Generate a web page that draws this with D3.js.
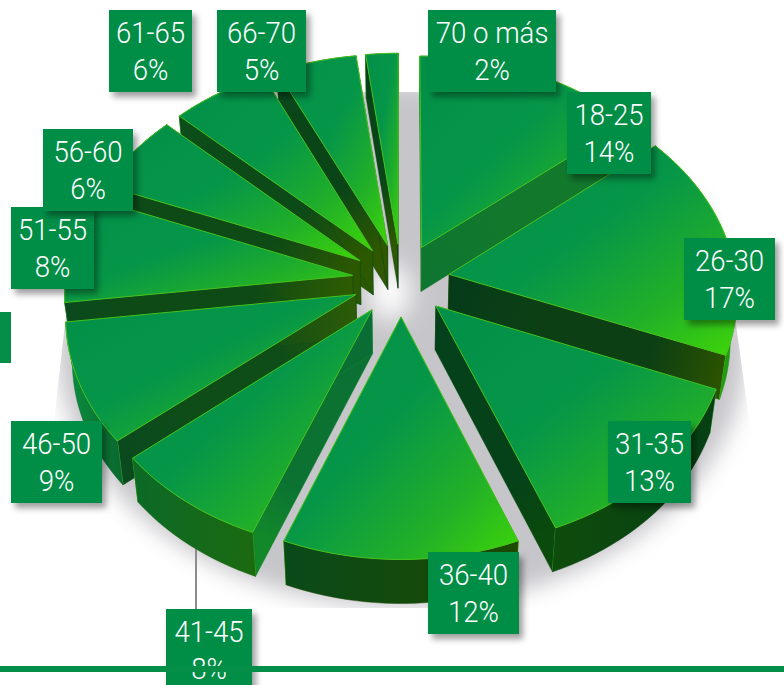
<!DOCTYPE html>
<html lang="es">
<head>
<meta charset="utf-8">
<title>Distribución por edad</title>
<script src="https://cdn.jsdelivr.net/npm/d3@7"></script>
<style>
  html, body { margin: 0; padding: 0; background: #fff; overflow: hidden; }
  svg { display: block; }
  .tag text { font-family: Roboto, sans-serif; font-weight: 300; font-size: 30px; fill: #fff; text-anchor: middle; }
</style>
</head>
<body>
<svg id="chart" width="784" height="685"></svg>
<script>
// Age groups and their share of the total, clockwise from twelve o'clock
const ageGroups = ["18-25", "26-30", "31-35", "36-40", "41-45", "46-50", "51-55", "56-60", "61-65", "66-70", "70 o más"];
const shares = [14, 17, 13, 12, 8, 9, 8, 6, 6, 5, 2];

// Corner of each tag and its width, in the same order as the groups
const tagX = [567, 684, 608, 428, 166, 11, 11, 43, 109, 217, 428];
const tagY = [92, 238, 421, 552, 609, 421, 207, 129, 10, 10, 10];
const tagW = [84, 91, 83, 91, 86, 91, 83, 90, 83, 89, 128];

// Wall shades per slice: radial walls inner, middle and outer, rim wall left to right
const radialInner = ["#0e7630", "#053b1a", "#04401c", "#0a7538", "#0a6c36", "#2e5c06", "#2e5c02", "#2c5800", "#2c5800", "#2f5800", "#2f5800"];
const radialMiddle = ["#11782c", "#0c4014", "#05421a", "#189020", "#0b7232", "#0e4c18", "#0e4a16", "#0e4a16", "#0c4a18", "#0a4518", "#0a4518"];
const radialOuter = ["#1d7a1e", "#2a5200", "#0a4a0c", "#26a810", "#12882a", "#0a4a1e", "#0a4a1c", "#0c4d1a", "#0a481c", "#064018", "#064018"];
const rimLeft = ["#0a8a3a", "#2aa010", "#0e4c0c", "#0a4a1a", "#0b6a28", "#0a9040", "#0a4a1e", "#0a4a1c", "#0c4d1a", "#0a481c", "#064018"];
const rimRight = ["#0a8a3a", "#1f9a10", "#063f14", "#1c4a00", "#1c6a10", "#0a6a30", "#0a4a1e", "#0a4a1c", "#0c4d1a", "#0a481c", "#064018"];

const TAG_GREEN = "#058e47";
const TAG_H = 82;
const svg = d3.select("#chart");
const defs = svg.append("defs");

// Ground-plane projection of the disc with mild perspective
const cx = 401, cy = 280, perspective = 0.089, explode = 0.17, thickness = 44;
const xScale = d3.scaleLinear().domain([-1, 1]).range([cx - 287, cx + 287]);
const yScale = d3.scaleLinear().domain([-1, 1]).range([cy - 214, cy + 214]);

function project(x, y, z) {
  const s = 1 / (1 - perspective * y);
  return [
    cx + (xScale(x) - cx) * s * (1 - 0.02 * z),
    cy + (yScale(y) - cy) * s + thickness * z
  ];
}

const pie = d3.pie().sort(null).startAngle(0).endAngle(2 * Math.PI);
const slices = pie(shares).map((d, i) => {
  const mid = (d.startAngle + d.endAngle) / 2;
  return Object.assign(d, { i, mid, ox: explode * Math.sin(mid), oy: -explode * Math.cos(mid) });
});

const toPath = d3.line();

function rimPoints(d, z) {
  const steps = Math.max(8, Math.ceil((d.endAngle - d.startAngle) * 30));
  return d3.range(steps + 1).map(k => {
    const a = d.startAngle + (d.endAngle - d.startAngle) * k / steps;
    return project(d.ox + Math.sin(a), d.oy - Math.cos(a), z);
  });
}

function gradient(id, x1, y1, x2, y2, stops, units) {
  const g = defs.append("linearGradient").attr("id", id)
    .attr("gradientUnits", units || "userSpaceOnUse")
    .attr("x1", x1).attr("y1", y1).attr("x2", x2).attr("y2", y2);
  stops.forEach(([o, c]) => g.append("stop").attr("offset", o).attr("stop-color", c));
  return `url(#${id})`;
}

// Filters for the cast shadow and the tag shadows
defs.append("filter").attr("id", "soft").attr("x", "-20%").attr("y", "-20%").attr("width", "140%").attr("height", "140%")
  .append("feGaussianBlur").attr("stdDeviation", 11);
defs.append("filter").attr("id", "glow").attr("x", "-60%").attr("y", "-60%").attr("width", "220%").attr("height", "220%")
  .append("feGaussianBlur").attr("stdDeviation", 12);
defs.append("filter").attr("id", "tagShadow").attr("x", "-20%").attr("y", "-20%").attr("width", "140%").attr("height", "140%")
  .append("feDropShadow").attr("dx", 4).attr("dy", 5).attr("stdDeviation", 3)
  .attr("flood-color", "#000").attr("flood-opacity", 0.38);
defs.append("clipPath").attr("id", "floor").append("path")
  .attr("d", toPath([[91, 92], [704, 92], [775, 608], [33, 608]]) + "Z");

// Shadow on the floor, cut off by the backdrop edges
const floor = svg.append("g").attr("clip-path", "url(#floor)");
floor.append("ellipse").attr("cx", 402).attr("cy", 345).attr("rx", 345).attr("ry", 262)
  .attr("fill", "#c6c6ca").attr("filter", "url(#soft)");
floor.append("ellipse").attr("cx", 390).attr("cy", 292).attr("rx", 20).attr("ry", 28)
  .attr("fill", "#fff").attr("filter", "url(#glow)");

// Leader from the 41-45 slice down to its tag
svg.append("line").attr("x1", 196).attr("x2", 196).attr("y1", 540).attr("y2", 612)
  .attr("stroke", "#8c8c8c").attr("stroke-width", 2);

// Slices, far ones first so nearer ones overlap them
const EDGE = "#45c31c";
const order = slices.slice().sort((a, b) => a.oy - b.oy);
const pieG = svg.append("g");
order.forEach(d => {
  const g = pieG.append("g");
  const apexTop = project(d.ox, d.oy, 0);
  const apexBottom = project(d.ox, d.oy, 1);
  const top = rimPoints(d, 0);
  const bottom = rimPoints(d, 1);
  const wallFill = (end, tagName) => gradient(`wall${d.i}${tagName}`, apexTop[0], apexTop[1], end[0], end[1],
    [[0, radialInner[d.i]], [0.35, radialMiddle[d.i]], [0.75, radialMiddle[d.i]], [1, radialOuter[d.i]]]);

  // radial walls
  [[top[0], bottom[0], "a"], [top[top.length - 1], bottom[bottom.length - 1], "b"]].forEach(([t, b, n]) => {
    g.append("path").attr("d", toPath([apexTop, t, b, apexBottom]) + "Z")
      .attr("fill", wallFill(t, n)).attr("stroke", radialOuter[d.i]).attr("stroke-width", 0.5);
    g.append("path").attr("d", toPath([t, b])).attr("stroke", EDGE).attr("stroke-width", 1).attr("fill", "none");
  });

  // rim wall
  const xs = d3.extent(top, p => p[0]);
  g.append("path").attr("d", toPath(top.concat(bottom.slice().reverse())) + "Z")
    .attr("fill", gradient(`rim${d.i}`, xs[0], 0, xs[1], 0, [[0, rimLeft[d.i]], [1, rimRight[d.i]]]))
    .attr("stroke", rimRight[d.i]).attr("stroke-width", 0.5);

  // top face, brightening toward its lower right corner
  g.append("path").attr("d", toPath([apexTop].concat(top)) + "Z")
    .attr("fill", gradient(`top${d.i}`, 0, 0, 1, 1,
      [[0, "#028f48"], [0.45, "#069648"], [0.75, "#22b028"], [1, "#3ed608"]], "objectBoundingBox"))
    .attr("stroke", EDGE).attr("stroke-width", 1).attr("stroke-linejoin", "round");
});

// Value tags
const tags = svg.append("g").selectAll("g").data(slices).join("g").attr("class", "tag");
tags.append("rect")
  .attr("x", d => tagX[d.i]).attr("y", d => tagY[d.i])
  .attr("width", d => tagW[d.i]).attr("height", TAG_H)
  .attr("fill", TAG_GREEN).attr("filter", "url(#tagShadow)");
[[d => ageGroups[d.i], 33], [d => d.data + "%", 70]].forEach(([label, dy]) => {
  tags.append("text")
    .attr("transform", d => `translate(${tagX[d.i] + tagW[d.i] / 2},${tagY[d.i] + dy}) scale(0.92,1)`)
    .text(label);
});

// Tab at the left edge and the rule along the bottom
svg.append("rect").attr("x", 0).attr("y", 312).attr("width", 11).attr("height", 51).attr("fill", TAG_GREEN);
svg.append("rect").attr("x", 0).attr("y", 666).attr("width", 784).attr("height", 6).attr("fill", TAG_GREEN);
</script>
</body>
</html>
